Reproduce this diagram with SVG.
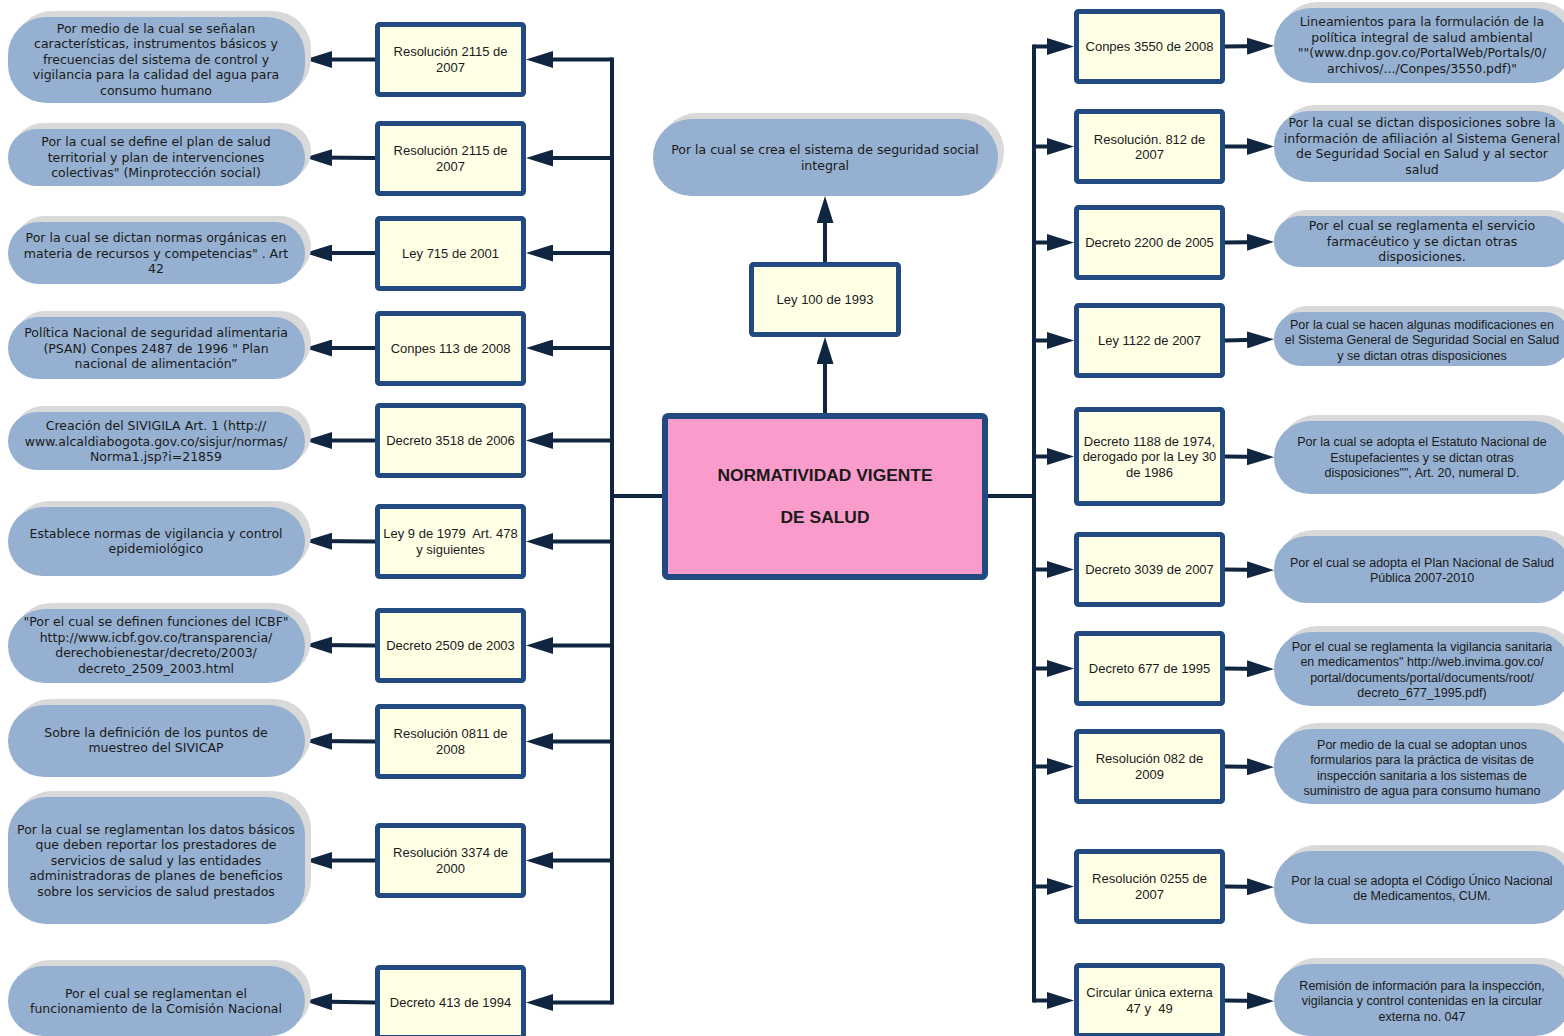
<svg xmlns="http://www.w3.org/2000/svg" width="1564" height="1036" viewBox="0 0 1564 1036">
<style>
.sh{fill:#d9d9d9}
.pl{fill:#95b0d1}
.law{fill:#ffffe6;stroke:#224a80;stroke-width:5}
.ctr{fill:#f99bcb;stroke:#224a80;stroke-width:6}
.tt{font-family:"DejaVu Sans",Verdana,sans-serif;font-size:12.5px;fill:#1a1a1a;text-anchor:middle}
.tc{font-family:"Liberation Sans",Arial,sans-serif;font-size:12.5px;fill:#1a1a1a;text-anchor:middle}
.tl{font-family:"Liberation Sans",Arial,sans-serif;font-size:13px;fill:#1a1a1a;text-anchor:middle}
.tb{font-family:"Liberation Sans",Arial,sans-serif;font-size:17.4px;font-weight:bold;fill:#1a1a1a;text-anchor:middle}
.cn{stroke:#10253f;stroke-width:4;fill:none}
.ar{stroke:#10253f;stroke-width:4;fill:none;marker-end:url(#ah)}
</style>
<defs>
<marker id="ah" markerUnits="userSpaceOnUse" markerWidth="27" markerHeight="17" refX="17" refY="8.5" orient="auto">
<path d="M0,0 L27,8.5 L0,17 z" fill="#10253f"/>
</marker>
</defs>
<rect width="1564" height="1036" fill="#ffffff"/>

<g id="connectors">
<line class="cn" x1="612" y1="57.5" x2="612" y2="1004.5"/>
<line class="cn" x1="1034" y1="44.5" x2="1034" y2="1002.5"/>
<line class="cn" x1="662" y1="496" x2="610" y2="496"/>
<line class="cn" x1="988" y1="496" x2="1036" y2="496"/>
<line class="ar" x1="825" y1="413" x2="825" y2="347"/>
<line class="ar" x1="825" y1="262" x2="825" y2="206"/>
<line class="ar" x1="612" y1="59.5" x2="536" y2="59.5"/>
<line class="ar" x1="612" y1="158" x2="536" y2="158"/>
<line class="ar" x1="612" y1="253" x2="536" y2="253"/>
<line class="ar" x1="612" y1="348" x2="536" y2="348"/>
<line class="ar" x1="612" y1="440.5" x2="536" y2="440.5"/>
<line class="ar" x1="612" y1="541.5" x2="536" y2="541.5"/>
<line class="ar" x1="612" y1="645.5" x2="536" y2="645.5"/>
<line class="ar" x1="612" y1="741.5" x2="536" y2="741.5"/>
<line class="ar" x1="612" y1="860.5" x2="536" y2="860.5"/>
<line class="ar" x1="612" y1="1002.5" x2="536" y2="1002.5"/>
<line class="ar" x1="375" y1="59.5" x2="315" y2="59.5"/>
<line class="ar" x1="375" y1="158" x2="315" y2="157.5"/>
<line class="ar" x1="375" y1="253" x2="315" y2="253"/>
<line class="ar" x1="375" y1="348" x2="315" y2="348"/>
<line class="ar" x1="375" y1="440.5" x2="315" y2="440.5"/>
<line class="ar" x1="375" y1="541.5" x2="315" y2="541"/>
<line class="ar" x1="375" y1="645.5" x2="315" y2="645"/>
<line class="ar" x1="375" y1="741.5" x2="315" y2="741"/>
<line class="ar" x1="375" y1="860.5" x2="315" y2="860.5"/>
<line class="ar" x1="375" y1="1002.5" x2="315" y2="1001.5"/>
<line class="ar" x1="1034" y1="46.5" x2="1064" y2="46.5"/>
<line class="ar" x1="1034" y1="146.5" x2="1064" y2="146.5"/>
<line class="ar" x1="1034" y1="242.5" x2="1064" y2="242.5"/>
<line class="ar" x1="1034" y1="340.5" x2="1064" y2="340.5"/>
<line class="ar" x1="1034" y1="456.5" x2="1064" y2="456.5"/>
<line class="ar" x1="1034" y1="569.5" x2="1064" y2="569.5"/>
<line class="ar" x1="1034" y1="668.5" x2="1064" y2="668.5"/>
<line class="ar" x1="1034" y1="766.5" x2="1064" y2="766.5"/>
<line class="ar" x1="1034" y1="886.5" x2="1064" y2="886.5"/>
<line class="ar" x1="1034" y1="1000.5" x2="1064" y2="1000.5"/>
<line class="ar" x1="1225" y1="46.5" x2="1264" y2="46"/>
<line class="ar" x1="1225" y1="146.5" x2="1264" y2="146.5"/>
<line class="ar" x1="1225" y1="242.5" x2="1264" y2="242"/>
<line class="ar" x1="1225" y1="340.5" x2="1264" y2="339.5"/>
<line class="ar" x1="1225" y1="456.5" x2="1264" y2="457"/>
<line class="ar" x1="1225" y1="569.5" x2="1264" y2="570"/>
<line class="ar" x1="1225" y1="668.5" x2="1264" y2="669"/>
<line class="ar" x1="1225" y1="766.5" x2="1264" y2="767"/>
<line class="ar" x1="1225" y1="886.5" x2="1264" y2="887"/>
<line class="ar" x1="1225" y1="1000.5" x2="1264" y2="1001"/>
</g>

<g id="center">
<rect class="ctr" x="665" y="416" width="320" height="161" rx="3"/>
<text class="tb" x="825" y="481">NORMATIVIDAD VIGENTE</text>
<text class="tb" x="825" y="523">DE SALUD</text>
</g>

<g id="ley100">
<rect class="law" x="751.5" y="264.5" width="147" height="70" rx="2"/>
<text class="tl" x="825" y="304">Ley 100 de 1993</text>
</g>

<g id="ley100-desc">
<rect class="sh" x="659" y="113" width="345" height="77" rx="38"/>
<rect class="pl" x="653" y="119" width="345" height="77" rx="38"/>
<text class="tt" x="825" y="153.5"><tspan x="825">Por la cual se crea el sistema de seguridad social</tspan><tspan x="825" dy="16">integral</tspan></text>
</g>

<!-- Left legal boxes -->
<g id="L1"><rect class="law" x="377.5" y="24.5" width="146" height="70" rx="2"/><text class="tl" y="56"><tspan x="450.5">Resolución 2115 de</tspan><tspan x="450.5" dy="15.5">2007</tspan></text></g>
<g id="L2"><rect class="law" x="377.5" y="123.5" width="146" height="70" rx="2"/><text class="tl" y="155"><tspan x="450.5">Resolución 2115 de</tspan><tspan x="450.5" dy="15.5">2007</tspan></text></g>
<g id="L3"><rect class="law" x="377.5" y="218.5" width="146" height="70" rx="2"/><text class="tl" x="450.5" y="257.5">Ley 715 de 2001</text></g>
<g id="L4"><rect class="law" x="377.5" y="313.5" width="146" height="70" rx="2"/><text class="tl" x="450.5" y="352.5">Conpes 113 de 2008</text></g>
<g id="L5"><rect class="law" x="377.5" y="405.5" width="146" height="70" rx="2"/><text class="tl" x="450.5" y="445">Decreto 3518 de 2006</text></g>
<g id="L6"><rect class="law" x="377.5" y="506.5" width="146" height="70" rx="2"/><text class="tl" y="538"><tspan x="450.5">Ley 9 de 1979&#160; Art. 478</tspan><tspan x="450.5" dy="15.5">y siguientes</tspan></text></g>
<g id="L7"><rect class="law" x="377.5" y="610.5" width="146" height="70" rx="2"/><text class="tl" x="450.5" y="650">Decreto 2509 de 2003</text></g>
<g id="L8"><rect class="law" x="377.5" y="706.5" width="146" height="70" rx="2"/><text class="tl" y="738"><tspan x="450.5">Resolución 0811 de</tspan><tspan x="450.5" dy="15.5">2008</tspan></text></g>
<g id="L9"><rect class="law" x="377.5" y="825.5" width="146" height="70" rx="2"/><text class="tl" y="857"><tspan x="450.5">Resolución 3374 de</tspan><tspan x="450.5" dy="15.5">2000</tspan></text></g>
<g id="L10"><rect class="law" x="377.5" y="967.5" width="146" height="70" rx="2"/><text class="tl" x="450.5" y="1006.5">Decreto 413 de 1994</text></g>

<!-- Left descriptions -->
<g id="LD1"><rect class="sh" x="14" y="11" width="297" height="86" rx="38"/><rect class="pl" x="8" y="17" width="297" height="86" rx="38"/>
<text class="tt" y="32.5"><tspan x="156">Por medio de la cual se señalan</tspan><tspan x="156" dy="15.5">características, instrumentos básicos y</tspan><tspan x="156" dy="15.5">frecuencias del sistema de control y</tspan><tspan x="156" dy="15.5">vigilancia para la calidad del agua para</tspan><tspan x="156" dy="15.5">consumo humano</tspan></text></g>
<g id="LD2"><rect class="sh" x="14" y="123" width="297" height="57" rx="28.5"/><rect class="pl" x="8" y="129" width="297" height="57" rx="28.5"/>
<text class="tt" y="146"><tspan x="156">Por la cual se define el plan de salud</tspan><tspan x="156" dy="15.5">territorial y plan de intervenciones</tspan><tspan x="156" dy="15.5">colectivas" (Minprotección social)</tspan></text></g>
<g id="LD3"><rect class="sh" x="14" y="216" width="297" height="62" rx="31"/><rect class="pl" x="8" y="222" width="297" height="62" rx="31"/>
<text class="tt" y="242"><tspan x="156">Por la cual se dictan normas orgánicas en</tspan><tspan x="156" dy="15.5">materia de recursos y competencias" . Art</tspan><tspan x="156" dy="15.5">42</tspan></text></g>
<g id="LD4"><rect class="sh" x="14" y="311" width="297" height="62" rx="31"/><rect class="pl" x="8" y="317" width="297" height="62" rx="31"/>
<text class="tt" y="337"><tspan x="156">Política Nacional de seguridad alimentaria</tspan><tspan x="156" dy="15.5">(PSAN) Conpes 2487 de 1996 " Plan</tspan><tspan x="156" dy="15.5">nacional de alimentación”</tspan></text></g>
<g id="LD5"><rect class="sh" x="14" y="406" width="297" height="58" rx="29"/><rect class="pl" x="8" y="412" width="297" height="58" rx="29"/>
<text class="tt" y="430"><tspan x="156">Creación del SIVIGILA Art. 1 (http://</tspan><tspan x="156" dy="15.5">www.alcaldiabogota.gov.co/sisjur/normas/</tspan><tspan x="156" dy="15.5">Norma1.jsp?i=21859</tspan></text></g>
<g id="LD6"><rect class="sh" x="14" y="501" width="297" height="69" rx="34.5"/><rect class="pl" x="8" y="507" width="297" height="69" rx="34.5"/>
<text class="tt" y="537.5"><tspan x="156">Establece normas de vigilancia y control</tspan><tspan x="156" dy="15.5">epidemiológico</tspan></text></g>
<g id="LD7"><rect class="sh" x="14" y="603" width="297" height="74" rx="37"/><rect class="pl" x="8" y="609" width="297" height="74" rx="37"/>
<text class="tt" y="626"><tspan x="156">"Por el cual se definen funciones del ICBF"</tspan><tspan x="156" dy="15.5">http://www.icbf.gov.co/transparencia/</tspan><tspan x="156" dy="15.5">derechobienestar/decreto/2003/</tspan><tspan x="156" dy="15.5">decreto_2509_2003.html</tspan></text></g>
<g id="LD8"><rect class="sh" x="14" y="699" width="297" height="72" rx="36"/><rect class="pl" x="8" y="705" width="297" height="72" rx="36"/>
<text class="tt" y="736.5"><tspan x="156">Sobre la definición de los puntos de</tspan><tspan x="156" dy="15.5">muestreo del SIVICAP</tspan></text></g>
<g id="LD9"><rect class="sh" x="14" y="791" width="297" height="127" rx="38"/><rect class="pl" x="8" y="797" width="297" height="127" rx="38"/>
<text class="tt" y="833.5"><tspan x="156">Por la cual se reglamentan los datos básicos</tspan><tspan x="156" dy="15.5">que deben reportar los prestadores de</tspan><tspan x="156" dy="15.5">servicios de salud y las entidades</tspan><tspan x="156" dy="15.5">administradoras de planes de beneficios</tspan><tspan x="156" dy="15.5">sobre los servicios de salud prestados</tspan></text></g>
<g id="LD10"><rect class="sh" x="14" y="960" width="297" height="70" rx="35"/><rect class="pl" x="8" y="966" width="297" height="70" rx="35"/>
<text class="tt" y="997.5"><tspan x="156">Por el cual se reglamentan el</tspan><tspan x="156" dy="15.5">funcionamiento de la Comisión Nacional</tspan></text></g>

<!-- Right legal boxes -->
<g id="R1"><rect class="law" x="1076.5" y="11.5" width="146" height="70" rx="2"/><text class="tl" x="1149.5" y="51">Conpes 3550 de 2008</text></g>
<g id="R2"><rect class="law" x="1076.5" y="111.5" width="146" height="70" rx="2"/><text class="tl" y="143.5"><tspan x="1149.5">Resolución. 812 de</tspan><tspan x="1149.5" dy="15.5">2007</tspan></text></g>
<g id="R3"><rect class="law" x="1076.5" y="207.5" width="146" height="70" rx="2"/><text class="tl" x="1149.5" y="247">Decreto 2200 de 2005</text></g>
<g id="R4"><rect class="law" x="1076.5" y="305.5" width="146" height="70" rx="2"/><text class="tl" x="1149.5" y="345">Ley 1122 de 2007</text></g>
<g id="R5"><rect class="law" x="1076.5" y="409.5" width="146" height="94" rx="2"/><text class="tl" y="445.5"><tspan x="1149.5">Decreto 1188 de 1974,</tspan><tspan x="1149.5" dy="15.5">derogado por la Ley 30</tspan><tspan x="1149.5" dy="15.5">de 1986</tspan></text></g>
<g id="R6"><rect class="law" x="1076.5" y="534.5" width="146" height="70" rx="2"/><text class="tl" x="1149.5" y="574">Decreto 3039 de 2007</text></g>
<g id="R7"><rect class="law" x="1076.5" y="633.5" width="146" height="70" rx="2"/><text class="tl" x="1149.5" y="673">Decreto 677 de 1995</text></g>
<g id="R8"><rect class="law" x="1076.5" y="731.5" width="146" height="70" rx="2"/><text class="tl" y="763"><tspan x="1149.5">Resolución 082 de</tspan><tspan x="1149.5" dy="15.5">2009</tspan></text></g>
<g id="R9"><rect class="law" x="1076.5" y="851.5" width="146" height="70" rx="2"/><text class="tl" y="883"><tspan x="1149.5">Resolución 0255 de</tspan><tspan x="1149.5" dy="15.5">2007</tspan></text></g>
<g id="R10"><rect class="law" x="1076.5" y="965.5" width="146" height="70" rx="2"/><text class="tl" y="997"><tspan x="1149.5">Circular única externa</tspan><tspan x="1149.5" dy="15.5">47 y&#160; 49</tspan></text></g>

<!-- Right descriptions -->
<g id="RD1"><rect class="sh" x="1280" y="2" width="297" height="75" rx="37"/><rect class="pl" x="1274" y="8" width="297" height="75" rx="37"/>
<text class="tt" y="26"><tspan x="1422">Lineamientos para la formulación de la</tspan><tspan x="1422" dy="15.5">política integral de salud ambiental</tspan><tspan x="1422" dy="15.5">""(www.dnp.gov.co/PortalWeb/Portals/0/</tspan><tspan x="1422" dy="15.5">archivos/.../Conpes/3550.pdf)"</tspan></text></g>
<g id="RD2"><rect class="sh" x="1280" y="105" width="297" height="71" rx="35"/><rect class="pl" x="1274" y="111" width="297" height="71" rx="35"/>
<text class="tt" y="127"><tspan x="1422">Por la cual se dictan disposiciones sobre la</tspan><tspan x="1422" dy="15.5">información de afiliación al Sistema General</tspan><tspan x="1422" dy="15.5">de Seguridad Social en Salud y al sector</tspan><tspan x="1422" dy="15.5">salud</tspan></text></g>
<g id="RD3"><rect class="sh" x="1280" y="210" width="297" height="51" rx="25.5"/><rect class="pl" x="1274" y="216" width="297" height="51" rx="25.5"/>
<text class="tt" y="230"><tspan x="1422">Por el cual se reglamenta el servicio</tspan><tspan x="1422" dy="15.5">farmacéutico y se dictan otras</tspan><tspan x="1422" dy="15.5">disposiciones.</tspan></text></g>
<g id="RD4"><rect class="sh" x="1280" y="306" width="297" height="54" rx="27"/><rect class="pl" x="1274" y="312" width="297" height="54" rx="27"/>
<text class="tc" y="328.5"><tspan x="1422">Por la cual se hacen algunas modificaciones en</tspan><tspan x="1422" dy="15.5">el Sistema General de Seguridad Social en Salud</tspan><tspan x="1422" dy="15.5">y se dictan otras disposiciones</tspan></text></g>
<g id="RD5"><rect class="sh" x="1280" y="415" width="297" height="73" rx="36"/><rect class="pl" x="1274" y="421" width="297" height="73" rx="36"/>
<text class="tc" y="446"><tspan x="1422">Por la cual se adopta el Estatuto Nacional de</tspan><tspan x="1422" dy="15.5">Estupefacientes y se dictan otras</tspan><tspan x="1422" dy="15.5">disposiciones"", Art. 20, numeral D.</tspan></text></g>
<g id="RD6"><rect class="sh" x="1280" y="530" width="297" height="67" rx="33"/><rect class="pl" x="1274" y="536" width="297" height="67" rx="33"/>
<text class="tc" y="566.5"><tspan x="1422">Por el cual se adopta el Plan Nacional de Salud</tspan><tspan x="1422" dy="15.5">Pública 2007-2010</tspan></text></g>
<g id="RD7"><rect class="sh" x="1280" y="626" width="297" height="74" rx="37"/><rect class="pl" x="1274" y="632" width="297" height="74" rx="37"/>
<text class="tc" y="650.5"><tspan x="1422">Por el cual se reglamenta la vigilancia sanitaria</tspan><tspan x="1422" dy="15.5">en medicamentos" http://web.invima.gov.co/</tspan><tspan x="1422" dy="15.5">portal/documents/portal/documents/root/</tspan><tspan x="1422" dy="15.5">decreto_677_1995.pdf)</tspan></text></g>
<g id="RD8"><rect class="sh" x="1280" y="723" width="297" height="75" rx="37"/><rect class="pl" x="1274" y="729" width="297" height="75" rx="37"/>
<text class="tc" y="748.5"><tspan x="1422">Por medio de la cual se adoptan unos</tspan><tspan x="1422" dy="15.5">formularios para la práctica de visitas de</tspan><tspan x="1422" dy="15.5">inspección sanitaria a los sistemas de</tspan><tspan x="1422" dy="15.5">suministro de agua para consumo humano</tspan></text></g>
<g id="RD9"><rect class="sh" x="1280" y="845" width="297" height="73" rx="36"/><rect class="pl" x="1274" y="851" width="297" height="73" rx="36"/>
<text class="tc" y="884.5"><tspan x="1422">Por la cual se adopta el Código Único Nacional</tspan><tspan x="1422" dy="15.5">de Medicamentos, CUM.</tspan></text></g>
<g id="RD10"><rect class="sh" x="1280" y="958" width="297" height="72" rx="36"/><rect class="pl" x="1274" y="964" width="297" height="72" rx="36"/>
<text class="tc" y="989.5"><tspan x="1422">Remisión de información para la inspección,</tspan><tspan x="1422" dy="15.5">vigilancia y control contenidas en la circular</tspan><tspan x="1422" dy="15.5">externa no. 047</tspan></text></g>
</svg>
